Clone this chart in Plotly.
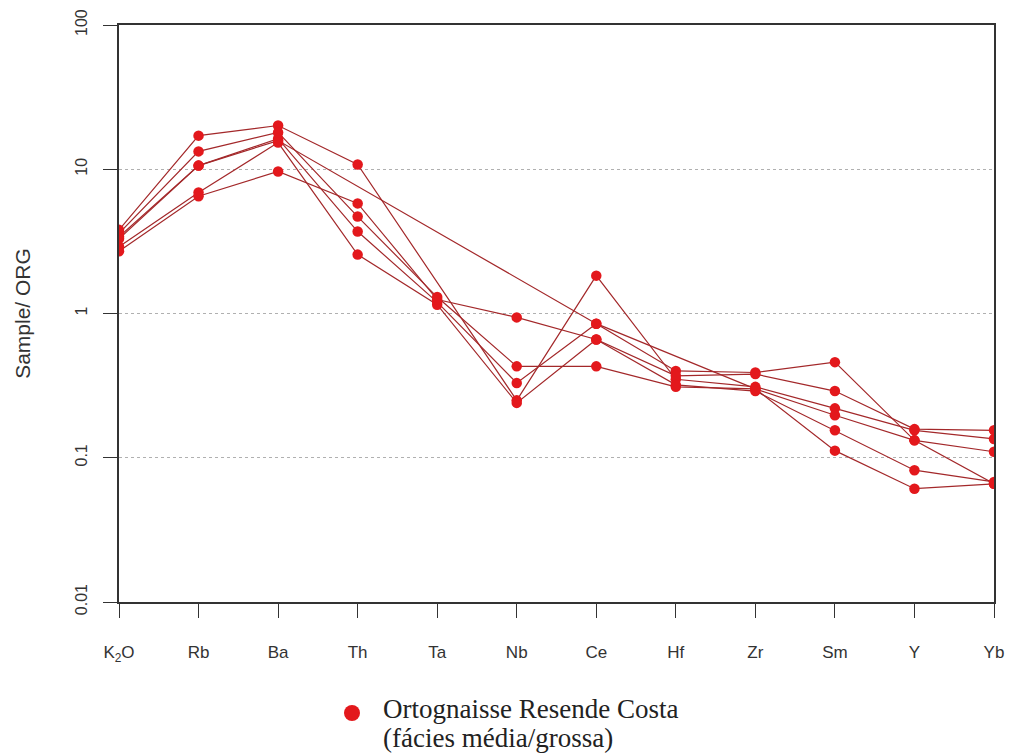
import plotly.graph_objects as go

# Elements on the spider diagram (normalised to ORG)
elements = ["K2O", "Rb", "Ba", "Th", "Ta", "Nb", "Ce", "Hf", "Zr", "Sm", "Y", "Yb"]
element_labels = ["K<sub>2</sub>O", "Rb", "Ba", "Th", "Ta", "Nb", "Ce", "Hf", "Zr", "Sm", "Y", "Yb"]

# Sample / ORG ratios, one list per sample (None = not analysed)
sample_1 = [3.8, 17.1, 20.1, 10.8, None, 0.25, 1.83, 0.35, 0.31, 0.22, 0.155, 0.135]
sample_2 = [3.6, 13.3, 18.0, 4.7, 1.30, 0.43, 0.43, 0.31, 0.30, 0.112, 0.061, 0.066]
sample_3 = [3.4, 10.6, 16.3, 3.7, 1.20, 0.33, 0.85, 0.40, 0.39, 0.46, 0.132, 0.066]
sample_4 = [3.3, 10.6, 15.8, None, None, None, 0.85, None, 0.30, 0.197, 0.132, 0.11]
sample_5 = [2.9, 6.9, 15.3, 2.56, 1.15, 0.24, 0.66, 0.37, 0.38, 0.29, 0.158, 0.155]
sample_6 = [2.7, 6.5, 9.65, 5.8, 1.25, 0.94, 0.66, 0.32, 0.29, 0.155, 0.082, 0.068]
samples = [sample_1, sample_2, sample_3, sample_4, sample_5, sample_6]

y_ticks = [0.01, 0.1, 1, 10, 100]
y_ticktext = ["0.01", "0.1", "1", "10", "100"]

legend_line_1 = "Ortognaisse Resende Costa"
legend_line_2 = "(fácies média/grossa)"

LINE_COLOR = "#a3282a"
DOT_COLOR = "#e3181c"
INK = "#333333"

# plot-area edges in pixels
L, R, T, B = 119, 994, 25, 602
W, H = 1009, 754


def px_x(x):
    return (x - L) / (R - L)


def px_y(y):
    return (B - y) / (B - T)


fig = go.Figure()

# connecting lines first, dots on top
for s in samples:
    fig.add_trace(go.Scatter(
        x=elements, y=s, mode="lines", connectgaps=True,
        line=dict(color=LINE_COLOR, width=1.2),
        showlegend=False, hoverinfo="skip"))
for s in samples:
    fig.add_trace(go.Scatter(
        x=elements, y=s, mode="markers",
        marker=dict(color=DOT_COLOR, size=10.5, line=dict(width=0)),
        showlegend=False))

fig.update_layout(
    width=W, height=H, autosize=False,
    margin=dict(l=L, r=W - R, t=T, b=H - B, pad=0),
    paper_bgcolor="white", plot_bgcolor="white",
    font=dict(family="Liberation Sans, Arial, sans-serif", color=INK),
    xaxis=dict(
        type="category", categoryorder="array", categoryarray=elements,
        range=[0, len(elements) - 1], automargin=False,
        tickmode="array", tickvals=elements, ticktext=element_labels,
        ticks="outside", ticklen=14, tickwidth=1, tickcolor=INK,
        showline=True, linecolor=INK, linewidth=1.5, mirror=True,
        showgrid=False, zeroline=False,
        tickfont=dict(size=17, color=INK), ticklabelstandoff=20,
    ),
    yaxis=dict(
        type="log", range=[-2, 2], automargin=False,
        tickmode="array", tickvals=y_ticks, ticktext=y_ticktext,
        tickangle=-90,
        ticks="outside", ticklen=14, tickwidth=1, tickcolor=INK,
        showline=True, linecolor=INK, linewidth=1.5, mirror=True,
        showgrid=True, gridcolor="#b0b0b0", griddash="3px,3px", gridwidth=1,
        zeroline=False,
        tickfont=dict(size=16, color=INK), ticklabelstandoff=10,
        title=dict(text="Sample/ ORG", font=dict(size=21, color=INK), standoff=36),
    ),
)

# legend entry below the plot
fig.add_shape(type="circle", xref="paper", yref="paper",
              xsizemode="pixel", ysizemode="pixel",
              xanchor=px_x(352), yanchor=px_y(713),
              x0=-8, x1=8, y0=-8, y1=8,
              fillcolor=DOT_COLOR, line=dict(width=0))
for text, yc in [(legend_line_1, 709), (legend_line_2, 738)]:
    fig.add_annotation(xref="paper", yref="paper",
                       x=px_x(381), y=px_y(yc),
                       xanchor="left", yanchor="middle", align="left",
                       text=text, showarrow=False,
                       font=dict(family="Liberation Serif, Times New Roman, serif",
                                 size=27, color="#222222"))

fig.write_html("out.html")
